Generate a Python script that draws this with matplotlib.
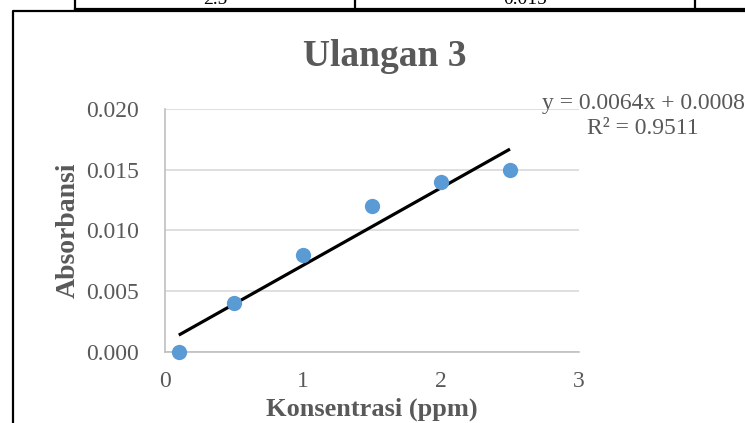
import matplotlib.pyplot as plt
import numpy as np
from matplotlib.lines import Line2D

plt.rcParams["font.family"] = ["Liberation Serif", "DejaVu Serif"]

konsentrasi = [0.1, 0.5, 1.0, 1.5, 2.0, 2.5]
absorbansi = [0.000, 0.004, 0.008, 0.012, 0.014, 0.015]
x_ticks = [0, 1, 2, 3]
y_ticks = [0.000, 0.005, 0.010, 0.015, 0.020]
equation_text = "y = 0.0064x + 0.0008\nR² = 0.9511"

text_color = "#595959"
W, H = 745, 423

fig = plt.figure(figsize=(W / 100, H / 100), dpi=100)


def px(x, y):
    # pixel coords (from top-left) to figure fraction
    return x / W, 1 - y / H


# fragment of the document table above the chart
fig.add_artist(Line2D([75 / W, 1], [1 - 9 / H] * 2, color="black", lw=1.6,
                      transform=fig.transFigure))
for xv in [75, 355, 695]:
    fig.add_artist(Line2D([xv / W] * 2, [1 - 9 / H, 1], color="black", lw=1.6,
                          transform=fig.transFigure))
fig.text(*px(215, -1), "2.5", ha="center", va="center", fontsize=14)
fig.text(*px(525, -1), "0.015", ha="center", va="center", fontsize=14)

# chart frame
fig.add_artist(Line2D([13 / W, 13 / W, 1], [0, 1 - 11 / H, 1 - 11 / H],
                      color="black", lw=1.6, transform=fig.transFigure))

ax = fig.add_axes([165 / W, (H - 352) / H, 414 / W, 243 / H])

slope, intercept = np.polyfit(konsentrasi, absorbansi, 1)
x_fit = np.array([konsentrasi[0], konsentrasi[-1]])
ax.plot(x_fit, slope * x_fit + intercept, color="black", lw=2.3, zorder=3,
        solid_capstyle="butt")
ax.plot(konsentrasi, absorbansi, "o", color="#5b9bd5", markersize=11,
        markeredgewidth=0, zorder=4, clip_on=False)

ax.set_xlim(0, 3)
ax.set_ylim(0, 0.020)
ax.set_xticks(x_ticks)
ax.set_yticks(y_ticks)
ax.set_xticklabels([str(t) for t in x_ticks])
ax.set_yticklabels([f"{t:.3f}" for t in y_ticks])
ax.tick_params(length=0, labelsize=17, labelcolor=text_color)
ax.tick_params(axis="y", pad=19)
ax.tick_params(axis="x", pad=14)
ax.grid(axis="y", color="#d9d9d9", lw=1.2)
ax.set_axisbelow(True)
for side in ["top", "right"]:
    ax.spines[side].set_visible(False)
for side in ["left", "bottom"]:
    ax.spines[side].set_color("#bfbfbf")
    ax.spines[side].set_linewidth(1.2)

fig.text(*px(385, 56), "Ulangan 3", ha="center", va="center", fontsize=27,
         fontweight="bold", color=text_color)
fig.text(*px(68, 230), "Absorbansi", ha="center", va="center", rotation=90,
         fontsize=20, fontweight="bold", color=text_color)
fig.text(*px(372, 409), "Konsentrasi (ppm)", ha="center", va="center",
         fontsize=19, fontweight="bold", color=text_color)
fig.text(*px(643, 116), equation_text, ha="center", va="center",
         multialignment="center", fontsize=17, color=text_color,
         linespacing=1.2)

fig.savefig("out.png", dpi=100)
